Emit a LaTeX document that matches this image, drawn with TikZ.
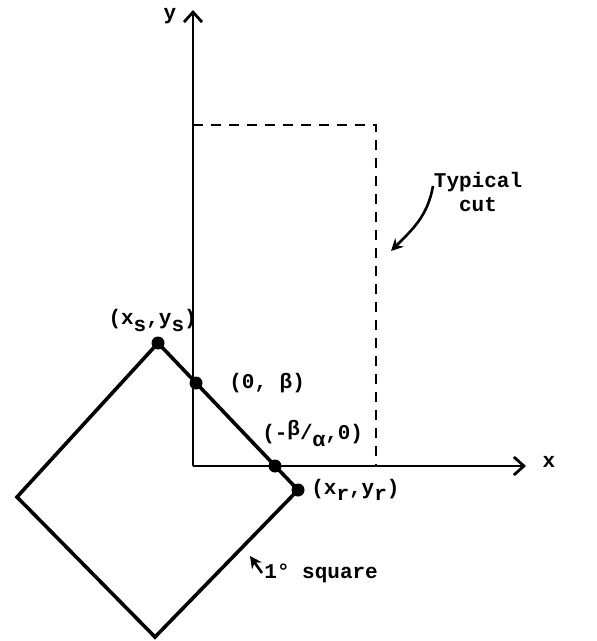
\documentclass[tikz,border=0pt]{standalone}
\usepackage{fontspec}
\setmonofont{Liberation Mono}
\usetikzlibrary{arrows.meta,positioning,calc}
\newcommand{\lowr}[1]{\raisebox{-0.6ex}{#1}}
\newcommand{\highr}[1]{\raisebox{0.35ex}{#1}}
\tikzset{
  axisline/.style={line width=1.4pt, -{Straight Barb[length=5pt,width=9pt,line width=1.4pt]}},
  sqline/.style={line width=1.8pt, line join=miter},
  cutline/.style={line width=1.2pt, dash pattern=on 5pt off 4pt},
  dot/.style={circle, fill=black, inner sep=0pt, minimum size=6.5pt},
  lbl/.style={font=\ttfamily\bfseries\fontsize{10.5}{12}\selectfont, inner sep=1pt},
  pointer/.style={line width=1.3pt, -{Stealth[length=6pt,width=6pt]}},
}
\begin{document}
\begin{tikzpicture}[x=0.5pt,y=-0.5pt]
  \useasboundingbox (0,0) rectangle (596,641);
  % axes
  \coordinate (O) at (193,466);
  \coordinate (ytip) at (193,10);
  \coordinate (xtip) at (526,466);
  \draw[axisline] (O) -- (ytip);
  \draw[axisline] (O) -- (xtip);
  \node[lbl] (ylbl) at (170,16) {y};
  \node[lbl] (xlbl) at (549,462) {x};
  % the cut
  \coordinate (ctl) at (193,125);
  \coordinate (ctr) at (376,125);
  \coordinate (cbr) at (376,466);
  \draw[cutline] (ctl) -- (ctr) -- (cbr);
  % the square
  \coordinate (S) at (158,343);
  \coordinate (R) at (298,490);
  \coordinate (Bt) at (155,637);
  \coordinate (L) at (17,497);
  \draw[sqline] (S) -- (R) -- (Bt) -- (L) -- cycle;
  \node[dot] (ps) at (S) {};
  \node[dot] (pb) at (196,383) {};
  \node[dot] (pa) at (275,466) {};
  \node[dot] (pr) at (R) {};
  \node[lbl, above left=2pt and -23pt of ps] (lbls) {(x\lowr{s},y\lowr{s})};
  \node[lbl, right=12pt of pb] (lblb) {(0, β)};
  \node[lbl, above right=6pt and -10pt of pa] (lbla) {(-\highr{β}/\lowr{α},0)};
  \node[lbl, right=2pt of pr] (lblr) {(x\lowr{r},y\lowr{r})};
  % labels with pointers
  \node[lbl, align=center] (cutlbl) at (478,192) {Typical\\cut};
  \coordinate (cuttail) at (433,186);
  \coordinate (cuttip) at (391,251);
  \draw[pointer] (cuttail) to[out=-100,in=45] (cuttip);
  \node[lbl, anchor=west] (sqlbl) at (262,573) {1° square};
  \coordinate (sqtip) at (250,556);
  \draw[pointer] (sqlbl.west) -- (sqtip);
\end{tikzpicture}
\end{document}
